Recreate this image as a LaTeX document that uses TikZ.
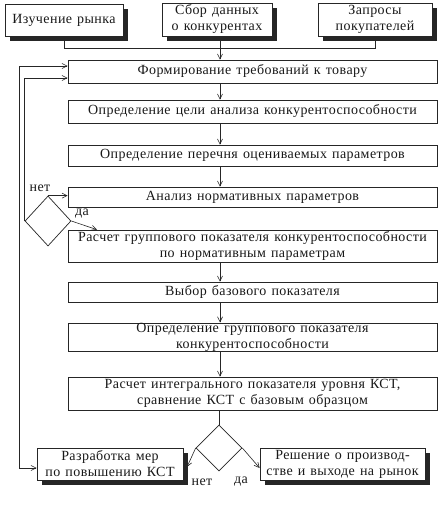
\documentclass[tikz,border=0pt]{standalone}
\usepackage{fontspec}
\setmainfont{Liberation Serif}[LetterSpace=3,WordSpace=1.3]
\usetikzlibrary{arrows.meta,shapes.geometric,shadows}
\begin{document}
\begin{tikzpicture}[x=1pt,y=-1pt,
  every node/.style={font=\fontsize{14}{16}\selectfont,text=black!90},
  box/.style={draw=black!85,line width=0.7pt,fill=white,rectangle,inner sep=0pt,align=center},
  shbox/.style={box,drop shadow={shadow xshift=5pt,shadow yshift=-5pt,fill=black!85,opacity=1}},
  dia/.style={draw=black!85,line width=0.7pt,diamond,inner sep=0pt},
  arr/.style={draw=black!85,line width=0.6pt,-{Straight Barb[length=5pt,width=5pt]}},
  arrboth/.style={draw=black!85,line width=0.6pt,{Straight Barb[length=5pt,width=5pt]}-{Straight Barb[length=5pt,width=5pt]}},
  ln/.style={draw=black!85,line width=0.6pt},
  lbl/.style={inner sep=0pt}
]
\useasboundingbox (0,0) rectangle (441,505);
\fill[white] (0,0) rectangle (441,505);

% top boxes
\node[shbox,minimum width=118pt,minimum height=32pt] (izuch) at (64,20) {Изучение рынка};
\node[shbox,minimum width=110pt,minimum height=33pt] (sbor) at (217,19.5) {Сбор данных\\о конкурентах};
\node[shbox,minimum width=114pt,minimum height=33pt] (zapros) at (375,19.5) {Запросы\\покупателей};

% main column
\node[box,minimum width=369pt,minimum height=23pt] (form) at (252.5,71.5) {Формирование требований к товару};
\node[box,minimum width=369pt,minimum height=23pt] (ziel) at (252.5,111.5) {Определение цели анализа конкурентоспособности};
\node[box,minimum width=369pt,minimum height=21pt] (perech) at (252.5,155.5) {Определение перечня оцениваемых параметров};
\node[box,minimum width=369pt,minimum height=20pt] (analiz) at (252.5,197) {Анализ нормативных параметров};
\node[box,minimum width=369pt,minimum height=32pt] (rasch) at (252.5,246) {Расчет группового показателя конкурентоспособности\\по нормативным параметрам};
\node[box,minimum width=369pt,minimum height=20pt] (vybor) at (252.5,292) {Выбор базового показателя};
\node[box,minimum width=369pt,minimum height=24pt] (opred) at (252.5,337) {Определение группового показателя\\конкурентоспособности};
\node[box,minimum width=369pt,minimum height=33pt] (integr) at (252.5,393.5) {Расчет интегрального показателя уровня КСТ,\\сравнение КСТ с базовым образцом};

% bottom boxes
\node[shbox,minimum width=146pt,minimum height=32pt] (razrab) at (110,464) {Разработка мер\\по повышению КСТ};
\node[shbox,minimum width=165pt,minimum height=32pt] (reshen) at (342.5,464) {Решение о производ-\\стве и выходе на рынок};

% diamonds
\node[dia,minimum width=46pt,minimum height=50pt] (d1) at (48,221) {};
\node[dia,minimum width=46pt,minimum height=46pt] (d2) at (219,448) {};

% helper coordinates
\coordinate (ax) at (220,0);
\coordinate (mj) at (220,48);
\coordinate (o1) at (19,66);
\coordinate (o2) at (19,468);
\coordinate (i1) at (25,78);
\coordinate (da1) at (97,0);
\coordinate (t1) at (187,467);
\coordinate (t2) at (0,468);

% top merge
\draw[ln] (izuch.south) |- (mj);
\draw[ln] (zapros.south) |- (mj);
\draw[arr] (ax |- sbor.south) -- (ax |- form.north);

% column arrows
\draw[arr] (ax |- form.south) -- (ax |- ziel.north);
\draw[arr] (ax |- ziel.south) -- (ax |- perech.north);
\draw[arr] (ax |- perech.south) -- (ax |- analiz.north);
\draw[arr] (ax |- rasch.south) -- (ax |- vybor.north);
\draw[arr] (ax |- vybor.south) -- (ax |- opred.north);
\draw[arr] (ax |- opred.south) -- (ax |- integr.north);

% small decision
\draw[arr] (d1.north) -- (d1.north -| analiz.west);
\draw[arr] (d1.east) -- (da1 |- rasch.north);
\draw[arr] (d1.west) -- (d1.west |- i1) -- (i1 -| form.west);
\draw[arrboth] (o1 -| form.west) -- (o1) -- (o2) -- (o2 -| razrab.west);
\node[lbl] (net1) at (40,188) {нет};
\node[lbl] (da1l) at (82,214) {да};

% bottom decision
\draw[ln] (d2.north |- integr.south) -- (d2.north);
\draw[arr] (d2.west) -- (t1);
\draw[arr] (d2.east) -- (t2 -| reshen.west);
\node[lbl] (net2) at (202,482) {нет};
\node[lbl] (da2) at (241,482) {да};
\end{tikzpicture}
\end{document}
